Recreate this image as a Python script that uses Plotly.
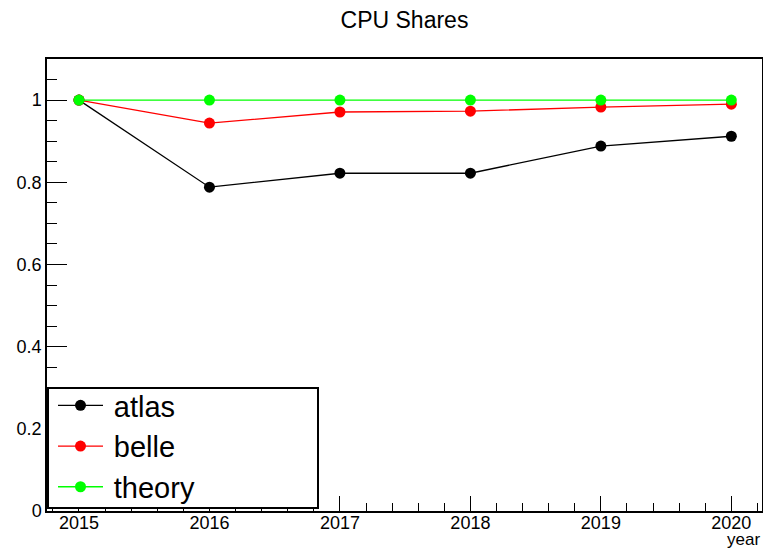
import plotly.graph_objects as go

years = [2015, 2016, 2017, 2018, 2019, 2020]
atlas = [1.0, 0.788, 0.822, 0.822, 0.888, 0.912]
belle = [1.0, 0.944, 0.971, 0.973, 0.983, 0.990]
theory = [1.0, 1.0, 1.0, 1.0, 1.0, 1.0]

series = [("atlas", atlas, "#000000"), ("belle", belle, "#ff0000"), ("theory", theory, "#00ff00")]

W, H = 763, 548
L, R, T, B = 47, 1, 59, 37
PW, PH = W - L - R, H - T - B

fig = go.Figure()
for name, vals, col in series:
    fig.add_trace(go.Scatter(
        x=years, y=vals, name="\u2009" + name, mode="lines+markers",
        line=dict(color=col, width=1.3),
        marker=dict(color=col, size=11, symbol="circle"),
    ))

font = "Liberation Sans, Arial, sans-serif"

def px2x(p):
    return (p - L) / PW

def px2y(p):
    return (H - B - p) / PH

fig.add_shape(type="rect", xref="paper", yref="paper",
              x0=px2x(48), x1=px2x(318), y0=px2y(508), y1=px2y(388),
              line=dict(color="black", width=2), fillcolor="white", layer="above")

fig.add_annotation(text="year", xref="paper", yref="paper",
                   x=px2x(762), y=px2y(539), xanchor="right", yanchor="middle",
                   showarrow=False, font=dict(family=font, size=17, color="black"))

fig.update_layout(
    width=W, height=H,
    margin=dict(l=L, r=R, t=T, b=B, autoexpand=False),
    paper_bgcolor="white", plot_bgcolor="white",
    title=dict(text="CPU Shares", x=(L + PW / 2) / W, xanchor="center",
               y=1 - 20 / H, yanchor="middle",
               font=dict(family=font, size=23, color="black")),
    font=dict(family=font, color="black"),
    showlegend=True,
    legend=dict(x=px2x(53), y=px2y(380), xanchor="left", yanchor="top",
                bgcolor="rgba(0,0,0,0)", borderwidth=0,
                font=dict(family=font, size=29, color="black"),
                itemwidth=45),
    xaxis=dict(range=[2014.755, 2020.235], showgrid=False, zeroline=False, automargin=False,
               showline=True, linecolor="black", linewidth=1.5, mirror=True,
               ticks="inside", ticklen=15, tickcolor="black", tickwidth=1.2,
               tick0=2015, dtick=1, tickformat="d", ticklabelstandoff=-5,
               tickfont=dict(family=font, size=18, color="black"),
               minor=dict(ticks="inside", ticklen=8, tickcolor="black", dtick=0.2, tick0=2015, showgrid=False)),
    yaxis=dict(range=[0, 1.1], showgrid=False, zeroline=False, automargin=False,
               showline=True, linecolor="black", linewidth=1.5, mirror=True,
               ticks="inside", ticklen=20, tickcolor="black", tickwidth=1.2,
               tick0=0, dtick=0.2, tickformat="~g",
               tickfont=dict(family=font, size=18, color="black"),
               minor=dict(ticks="inside", ticklen=10, tickcolor="black", dtick=0.05, tick0=0, showgrid=False)),
)

fig.write_html("out.html", config={"displayModeBar": False},
               post_script="document.body.style.margin='0';document.body.style.overflow='hidden';")
